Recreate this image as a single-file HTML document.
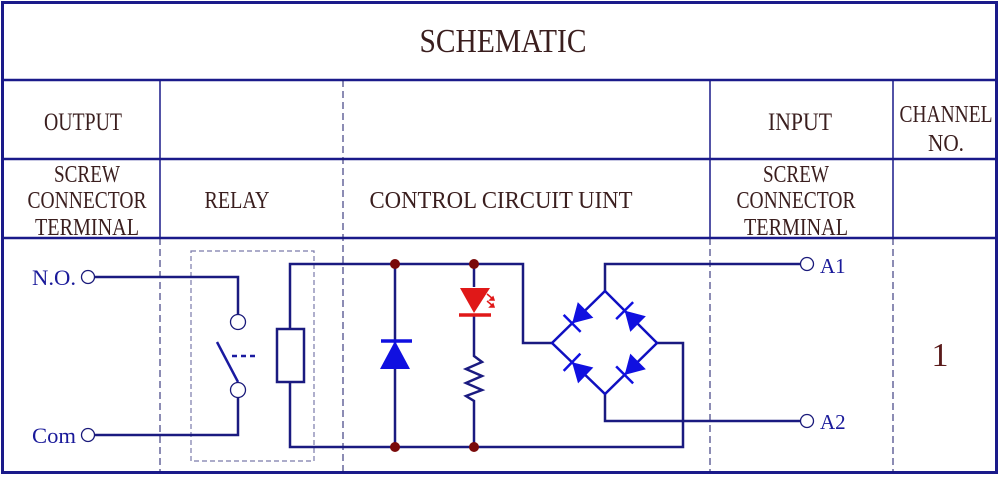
<!DOCTYPE html>
<html><head><meta charset="utf-8"><style>
html,body{margin:0;padding:0;background:#fff;}
svg{display:block}
text{font-family:"Liberation Serif",serif;fill:#3a1e1e;}
</style></head><body>
<svg width="1000" height="477" viewBox="0 0 1000 477" xmlns="http://www.w3.org/2000/svg">
<defs>
<g id="bd"><polygon points="9,0 -10,-11 -10,11" fill="#1010e0"/><line x1="9" y1="-12" x2="9" y2="12" stroke="#1010e0" stroke-width="2.5"/></g>
</defs>
<!-- table -->
<g stroke="#1a1a8a" fill="none">
<rect x="2.5" y="2.5" width="994" height="470" stroke-width="3"/>
<line x1="2" y1="80" x2="997" y2="80" stroke-width="2.5"/>
<line x1="2" y1="159" x2="997" y2="159" stroke-width="2.5"/>
<line x1="2" y1="238" x2="997" y2="238" stroke-width="2.5"/>
<line x1="160" y1="80" x2="160" y2="238" stroke-width="1.5"/>
<line x1="710" y1="80" x2="710" y2="238" stroke-width="1.5"/>
<line x1="893" y1="80" x2="893" y2="238" stroke-width="1.5"/>
<g stroke-width="1" stroke-dasharray="7,4" stroke="#1a1a6a">
<line x1="343" y1="80" x2="343" y2="472"/>
<line x1="160" y1="238" x2="160" y2="472"/>
<line x1="710" y1="238" x2="710" y2="472"/>
<line x1="893" y1="238" x2="893" y2="472"/>
</g>
</g>
<!-- labels -->
<text x="503" y="52" font-size="34" text-anchor="middle" textLength="167" lengthAdjust="spacingAndGlyphs">SCHEMATIC</text>
<text x="83" y="130" font-size="25" text-anchor="middle" textLength="78" lengthAdjust="spacingAndGlyphs">OUTPUT</text>
<text x="800" y="130" font-size="25" text-anchor="middle" textLength="64" lengthAdjust="spacingAndGlyphs">INPUT</text>
<text x="946" y="122" font-size="24" text-anchor="middle" textLength="93" lengthAdjust="spacingAndGlyphs">CHANNEL</text>
<text x="946" y="151" font-size="24" text-anchor="middle" textLength="36" lengthAdjust="spacingAndGlyphs">NO.</text>
<g font-size="24" text-anchor="middle">
<text x="87" y="182" textLength="66" lengthAdjust="spacingAndGlyphs">SCREW</text>
<text x="87" y="208" textLength="119" lengthAdjust="spacingAndGlyphs">CONNECTOR</text>
<text x="87" y="235" textLength="104" lengthAdjust="spacingAndGlyphs">TERMINAL</text>
<text x="796" y="182" textLength="66" lengthAdjust="spacingAndGlyphs">SCREW</text>
<text x="796" y="208" textLength="119" lengthAdjust="spacingAndGlyphs">CONNECTOR</text>
<text x="796" y="235" textLength="104" lengthAdjust="spacingAndGlyphs">TERMINAL</text>
<text x="237" y="208" textLength="65" lengthAdjust="spacingAndGlyphs">RELAY</text>
<text x="501" y="208" textLength="263" lengthAdjust="spacingAndGlyphs">CONTROL CIRCUIT UINT</text>
</g>
<text x="940" y="366" font-size="34" text-anchor="middle" style="fill:#5a1a1a">1</text>
<g font-size="22">
<text x="32" y="285" style="fill:#1a1a9a" textLength="44" lengthAdjust="spacingAndGlyphs">N.O.</text>
<text x="32" y="443" style="fill:#1a1a9a" textLength="44" lengthAdjust="spacingAndGlyphs">Com</text>
<text x="820" y="273" style="fill:#1a1a9a" font-size="21">A1</text>
<text x="820" y="429" style="fill:#1a1a9a" font-size="21">A2</text>
</g>
<!-- relay box -->
<rect x="191" y="251" width="123" height="210" fill="none" stroke="#7a7aaa" stroke-width="1.2" stroke-dasharray="5,3"/>
<g stroke="#1a1a80" stroke-width="2.5" fill="none">
<polyline points="94,277 238,277 238,315"/>
<polyline points="94,435 238,435 238,397"/>
<line x1="217" y1="342" x2="238" y2="382" stroke="#1a1aa0"/>
<line x1="232" y1="356" x2="258" y2="356" stroke-dasharray="5,4" stroke="#1a1aa0"/>
<rect x="277" y="329" width="27" height="53"/>
<polyline points="290,329 290,264 523,264 523,343 552,343"/>
<polyline points="290,382 290,447 683,447 683,343 657,343"/>
<line x1="395" y1="264" x2="395" y2="447"/>
<polyline points="474,264 474,287"/>
<polyline points="474,315 474,356 482,362 466,369 482,376 466,383 482,390 466,396 474,401 474,447"/>
<polyline points="605,291 605,264 801,264"/>
<polyline points="605,394 605,421 801,421"/>
<polygon points="552,343 605,291 657,343 605,394" stroke="#1010c0"/>
</g>
<g fill="#fff" stroke="#1a1a7a" stroke-width="1.3">
<circle cx="88" cy="277" r="6.5"/><circle cx="88" cy="435" r="6.5"/>
<circle cx="238" cy="322" r="7.5"/><circle cx="238" cy="390" r="7.5"/>
<circle cx="807" cy="264" r="6.5"/><circle cx="807" cy="421" r="6.5"/>
</g>
<!-- flyback diode -->
<polygon points="395,341 380,369 410,369" fill="#1010e0"/>
<line x1="381" y1="341" x2="412" y2="341" stroke="#1010e0" stroke-width="3.5"/>
<!-- LED -->
<polygon points="460,288 490,288 474,313" fill="#e01818"/>
<line x1="459" y1="315" x2="491" y2="315" stroke="#e01818" stroke-width="3.5"/>
<g stroke="#e01818" stroke-width="1.5" fill="#e01818">
<line x1="487" y1="294" x2="493" y2="299"/><polygon points="494,300 490,300 493,297"/>
<line x1="487" y1="301" x2="493" y2="306"/><polygon points="494,307 490,307 493,304"/>
</g>
<!-- dots -->
<g fill="#7a0a0a"><circle cx="395" cy="264" r="5"/><circle cx="474" cy="264" r="5"/><circle cx="395" cy="447" r="5"/><circle cx="474" cy="447" r="5"/></g>
<!-- bridge diodes -->
<use href="#bd" transform="translate(578.5,317) rotate(135)"/>
<use href="#bd" transform="translate(631,317) rotate(-135)"/>
<use href="#bd" transform="translate(578.5,368.5) rotate(-136)"/>
<use href="#bd" transform="translate(631,368.5) rotate(135)"/>
</svg>
</body></html>
